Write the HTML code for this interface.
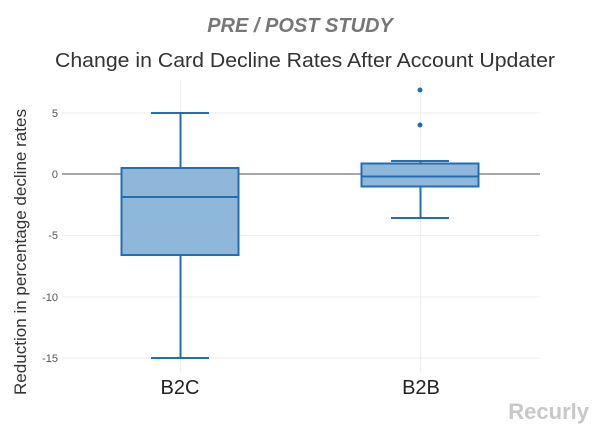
<!DOCTYPE html>
<html><head><meta charset="utf-8"><style>
body{margin:0;background:#fff;}
svg text{font-family:"Liberation Sans",sans-serif;}
</style></head><body>
<svg width="600" height="434" xmlns="http://www.w3.org/2000/svg">
<rect width="600" height="434" fill="#fff"/>
<text x="300" y="32" text-anchor="middle" font-size="20" font-weight="bold" font-style="italic" fill="#777">PRE / POST STUDY</text>
<text x="305" y="67" text-anchor="middle" font-size="20" fill="#333" textLength="500" lengthAdjust="spacingAndGlyphs">Change in Card Decline Rates After Account Updater</text>
<g stroke="#eee" stroke-width="1">
<line x1="62" x2="540" y1="113" y2="113"/><line x1="62" x2="540" y1="235.5" y2="235.5"/>
<line x1="62" x2="540" y1="297" y2="297"/><line x1="62" x2="540" y1="358" y2="358"/>
<line x1="180.5" x2="180.5" y1="80" y2="372"/><line x1="420.5" x2="420.5" y1="80" y2="372"/>
</g>
<line x1="62" x2="540" y1="174" y2="174" stroke="#888" stroke-width="1.5"/>
<g font-size="11" fill="#555" text-anchor="end">
<text x="58" y="117">5</text><text x="58" y="178">0</text><text x="58" y="239">-5</text>
<text x="58" y="301">-10</text><text x="58" y="362">-15</text>
</g>
<text transform="translate(26,252) rotate(-90)" text-anchor="middle" font-size="17" fill="#333" textLength="286" lengthAdjust="spacingAndGlyphs">Reduction in percentage decline rates</text>
<g stroke="#1f6fb4" stroke-width="2" fill="none">
<line x1="180.5" x2="180.5" y1="113" y2="168"/><line x1="180.5" x2="180.5" y1="255" y2="358"/>
<line x1="151" x2="209" y1="113" y2="113"/><line x1="151" x2="209" y1="358" y2="358"/>
<rect x="121.5" y="168" width="117" height="87" fill="#8fb7d9"/>
<line x1="121.5" x2="238.5" y1="197" y2="197"/>
<line x1="420.5" x2="420.5" y1="161" y2="163.5"/><line x1="420.5" x2="420.5" y1="186.5" y2="218"/>
<line x1="391" x2="449" y1="161" y2="161"/><line x1="391" x2="449" y1="218" y2="218"/>
<rect x="361.5" y="163.5" width="117" height="23" fill="#8fb7d9"/>
<line x1="361.5" x2="478.5" y1="176.5" y2="176.5"/>
</g>
<circle cx="420" cy="90" r="2.5" fill="#1f6fb4"/><circle cx="420" cy="125" r="2.5" fill="#1f6fb4"/>
<text x="180" y="394" text-anchor="middle" font-size="20" fill="#222">B2C</text>
<text x="421" y="394" text-anchor="middle" font-size="20" fill="#222">B2B</text>
<text x="589" y="419" text-anchor="end" font-size="22" font-weight="bold" fill="#c8c8c8">Recurly</text>
</svg>
</body></html>
